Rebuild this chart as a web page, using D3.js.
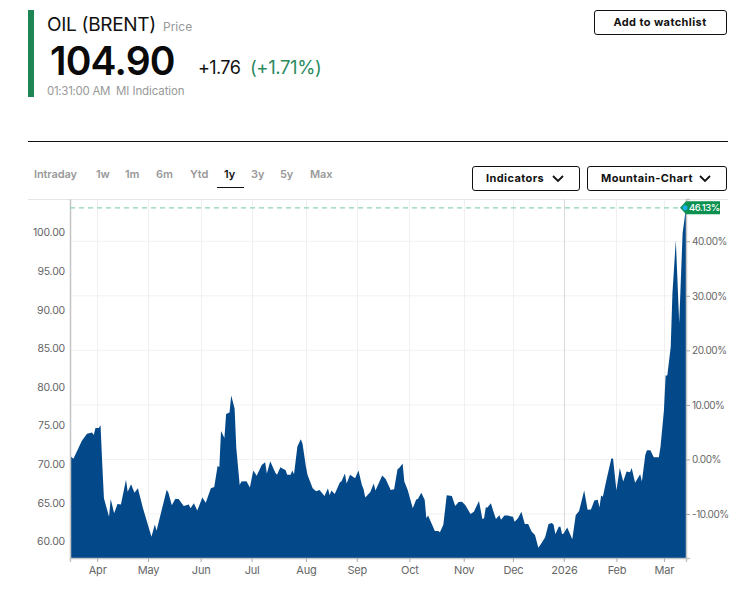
<!DOCTYPE html>
<html>
  <head>
    <meta charset="utf-8">
    <title>Oil (Brent)</title>
    <script src="https://d3js.org/d3.v7.min.js"></script>
    <style>
      body { margin: 0; background: #fff; }
      text { font-family: Inter, "Noto Sans", sans-serif; }
    </style>
  </head>
  <body>
    <script>
      // days since 16 Mar 2025
      var dayOffsets = [0,2,5,7,10,13,14,15,17,18,19,20,23,24,26,28,30,33,34,36,38,40,43,48,50,51,57,58,60,62,64,67,70,71,73,75,78,80,83,85,87,88,89,91,92,94,95,97,98,100,101,104,106,108,110,113,115,116,118,121,122,124,126,127,128,130,131,132,134,136,137,139,140,143,145,147,150,152,153,154,156,159,160,162,163,165,168,170,172,173,174,177,179,180,184,186,189,191,193,194,196,197,199,202,204,205,207,209,210,211,215,217,218,220,222,225,227,229,231,233,236,238,241,243,244,245,246,248,250,251,253,254,256,258,261,262,264,266,268,270,272,274,276,278,280,282,284,285,286,288,289,290,291,293,296,298,300,303,305,307,309,311,312,313,314,316,319,320,322,324,326,328,330,331,333,336,337,339,340,342,344,347,348,350,351,352,354,355,357,359,361,363];
      var prices = [71.1,70.7,72.1,73.05,73.95,74.1,73.8,74.7,74.7,75.05,70.1,65.6,63.2,65.5,63.65,64.85,64.8,68,66.45,67.4,66.3,66.9,64.3,60.6,62.2,61.4,66.7,66.3,64.7,65.5,65.5,64.6,64.8,64.3,64.95,64,65.7,65,66.9,67.05,69.8,69.6,74.3,73.4,76.5,76.7,78.9,77.2,72.1,67.3,67.75,67.8,67,69.2,68.5,69.9,70.25,68.8,70.4,68.9,68.65,69.6,69.35,69.25,68.65,68.65,69.2,68.7,72.3,73.25,72.7,69.7,68.6,66.9,66.5,66.65,65.9,66.9,66,66.6,66.15,67.65,67.8,68.8,67.5,68.65,68.2,69.2,67.3,66.75,65.7,66.4,67.5,66.6,68.55,68.1,66.65,66.75,69.35,69.5,70.1,67.75,66.65,64.3,65.45,65.5,66.3,65.4,63,63.35,61.35,61.35,61.2,62.15,66,65.9,64.6,65.1,65.15,64.7,63.55,63.85,65.25,62.9,63,64.4,64.4,64.95,63.55,62.9,63.4,62.8,63.35,63.35,63.2,62.55,63,63.85,62.25,62.25,61.3,60.85,59.2,59.85,60.55,62.25,62.4,62.15,60.95,61.9,61.9,60.95,61.05,61.8,60.3,63.4,63.95,66.6,64.1,64.15,65.3,65.4,64.4,65.95,65.8,67.85,70.75,70.75,66.6,69.5,67.75,69.05,68.95,69.5,67.6,68.7,67.75,71.2,71.8,71.8,70.9,70.9,72.3,77,81.5,81.5,85.2,92.1,99,88.25,99.9,103.2];

      var priceTicks = [60,65,70,75,80,85,90,95,100];
      var percentTicks = [-10,0,10,20,30,40];
      var monthDates = ["2025-04-01","2025-05-01","2025-06-01","2025-07-01","2025-08-02","2025-09-01","2025-10-02","2025-11-03","2025-12-02","2026-01-01","2026-02-01","2026-03-01"];
      var monthLabels = ["Apr","May","Jun","Jul","Aug","Sep","Oct","Nov","Dec","2026","Feb","Mar"];
      var rangeTabs = ["Intraday","1w","1m","6m","Ytd","1y","3y","5y","Max"];
      var rangeTabX = [34,96,125,156,190,224,251,280,310];
      var basePrice = 70.62;
      var lastPercent = "46.13%";

      var parseDay = d3.timeParse("%Y-%m-%d");
      var startDate = parseDay("2025-03-16");
      var dates = dayOffsets.map(function(d) { return d3.timeDay.offset(startDate, d); });

      var width = 750, height = 602;
      var left = 70, right = 686, top_ = 199, bottom = 558;

      var svg = d3.select("body").append("svg")
        .attr("width", width)
        .attr("height", height)
        .style("display", "block");

      var x = d3.scaleTime()
        .domain([startDate, d3.timeDay.offset(startDate, 363)])
        .range([left, right]);
      var y = d3.scaleLinear()
        .domain([57.86, 104.34])
        .range([bottom, top_]);
      var yPercent = function(p) { return y(basePrice * (1 + p / 100)); };

      // header
      svg.append("rect").attr("x", 28).attr("y", 10).attr("width", 6).attr("height", 87).attr("fill", "#1e8554");
      function label(t, px, py, size, weight, color, spacing) {
        return svg.append("text").text(t)
          .attr("x", px).attr("y", py)
          .attr("font-size", size).attr("font-weight", weight)
          .attr("fill", color).attr("letter-spacing", spacing || 0);
      }
      label("OIL (BRENT)", 47, 31, 19, 400, "#111", -0.3);
      label("Price", 163, 31, 12, 400, "#999");
      label("104.90", 50, 74.5, 39, 600, "#0a0a0a", -0.8);
      label("+1.76", 198, 74, 18, 400, "#111", -0.6);
      label("(+1.71%)", 250, 74, 18.5, 400, "#2b8a60", -0.4);
      label("01:31:00 AM", 47, 94.5, 11.5, 400, "#999", -0.3);
      label("MI Indication", 116, 94.5, 11.5, 400, "#999", -0.1);

      svg.append("line").attr("x1", 28).attr("x2", 728).attr("y1", 141.5).attr("y2", 141.5).attr("stroke", "#111");

      // range tabs
      svg.selectAll(".tab").data(rangeTabs).enter().append("text")
        .attr("class", "tab")
        .attr("x", function(d, i) { return rangeTabX[i]; })
        .attr("y", 178)
        .attr("font-size", 11)
        .attr("font-weight", 600)
        .attr("letter-spacing", -0.1)
        .attr("fill", function(d) { return d == "1y" ? "#111" : "#999"; })
        .text(function(d) { return d; });
      svg.append("line").attr("x1", 217).attr("x2", 244).attr("y1", 187.5).attr("y2", 187.5).attr("stroke", "#111");

      // buttons
      function button(t, bx, by, w, h, chevron) {
        svg.append("rect")
          .attr("x", bx + 0.5).attr("y", by + 0.5).attr("width", w).attr("height", h).attr("rx", 2.5)
          .attr("fill", "#fff").attr("stroke", "#111");
        var tx = chevron ? bx + 14 : bx + w / 2;
        svg.append("text").text(t)
          .attr("x", tx).attr("y", by + 16)
          .attr("text-anchor", chevron ? "start" : "middle")
          .attr("font-size", 11).attr("font-weight", 700)
          .attr("letter-spacing", 0.4).attr("fill", "#111");
        if (chevron) {
          var cx = bx + w - 21;
          svg.append("path")
            .attr("d", "M" + (cx - 5) + "," + (by + 10) + "L" + cx + "," + (by + 15) + "L" + (cx + 5) + "," + (by + 10))
            .attr("fill", "none").attr("stroke", "#111").attr("stroke-width", 1.8);
        }
      }
      button("Add to watchlist", 594, 10, 132, 24, false);
      button("Indicators", 472, 166, 107, 24, true);
      button("Mountain-Chart", 587, 166, 139, 24, true);

      // grid
      svg.append("line").attr("x1", 28).attr("x2", 728).attr("y1", 199.5).attr("y2", 199.5).attr("stroke", "#e6e6e6");
      svg.selectAll(".hgrid").data(percentTicks).enter().append("line")
        .attr("class", "hgrid")
        .attr("x1", left).attr("x2", right)
        .attr("y1", function(d) { return yPercent(d); })
        .attr("y2", function(d) { return yPercent(d); })
        .attr("stroke", "#f2f2f2");
      svg.selectAll(".vgrid").data(monthDates).enter().append("line")
        .attr("class", "vgrid")
        .attr("x1", function(d) { return Math.round(x(parseDay(d))) + 0.5; })
        .attr("x2", function(d) { return Math.round(x(parseDay(d))) + 0.5; })
        .attr("y1", top_).attr("y2", bottom)
        .attr("stroke", function(d, i) { return monthLabels[i] == "2026" ? "#d9d9d9" : "#f0f0f0"; });

      // mountain
      var area = d3.area()
        .x(function(d, i) { return x(dates[i]); })
        .y0(bottom)
        .y1(function(d) { return y(d); });
      svg.append("path").datum(prices)
        .attr("d", area)
        .attr("fill", "#03498a");

      // axes
      var xAxis = svg.append("g")
        .attr("transform", "translate(0," + bottom + ")")
        .call(d3.axisBottom(x)
          .tickValues(monthDates.map(parseDay))
          .tickFormat(function(d, i) { return monthLabels[i]; })
          .tickSize(4));
      var leftAxis = svg.append("g")
        .attr("transform", "translate(" + left + ",0)")
        .call(d3.axisLeft(y).tickValues(priceTicks).tickFormat(d3.format(".2f")).tickSize(0).tickPadding(5));
      var rightAxis = svg.append("g")
        .attr("transform", "translate(" + right + ",0)")
        .call(d3.axisRight(d3.scaleLinear()
            .domain([y.domain()[0] / basePrice * 100 - 100, y.domain()[1] / basePrice * 100 - 100])
            .range(y.range()))
          .tickValues(percentTicks)
          .tickFormat(function(d) { return d.toFixed(2) + "%"; })
          .tickSize(4).tickPadding(2));
      [xAxis, leftAxis, rightAxis].forEach(function(g) {
        g.selectAll("text").attr("font-size", 10.5).attr("fill", "#666").style("font-family", "Inter, sans-serif").attr("letter-spacing", -0.2);
        g.selectAll(".tick line").attr("stroke", "#aaa");
        g.select(".domain").attr("stroke", "#c4c4c4").attr("stroke-width", 1.5);
      });
      xAxis.selectAll("text").attr("font-size", 11).attr("dy", "0.8em");
      rightAxis.selectAll("text").attr("font-size", 10).attr("letter-spacing", -0.45);

      // last value marker
      var lastY = y(prices[prices.length - 1]);
      svg.append("line")
        .attr("x1", left).attr("x2", right - 2)
        .attr("y1", lastY).attr("y2", lastY)
        .attr("stroke", "#8fd6ae").attr("stroke-width", 1.2).attr("stroke-dasharray", "5,4");
      svg.append("path")
        .attr("d", "M680," + lastY + "L686," + (lastY - 6.5) + "H720V" + (lastY + 6.5) + "H686Z")
        .attr("fill", "#0a9150");
      svg.append("circle").attr("cx", 685).attr("cy", lastY).attr("r", 2.5).attr("fill", "#1ab0f0");
      svg.append("text").text(lastPercent)
        .attr("x", 689).attr("y", lastY + 3.5)
        .attr("font-size", 9.5).attr("font-weight", 500)
        .attr("letter-spacing", -0.4).attr("fill", "#fff");
    </script>
  </body>
</html>
